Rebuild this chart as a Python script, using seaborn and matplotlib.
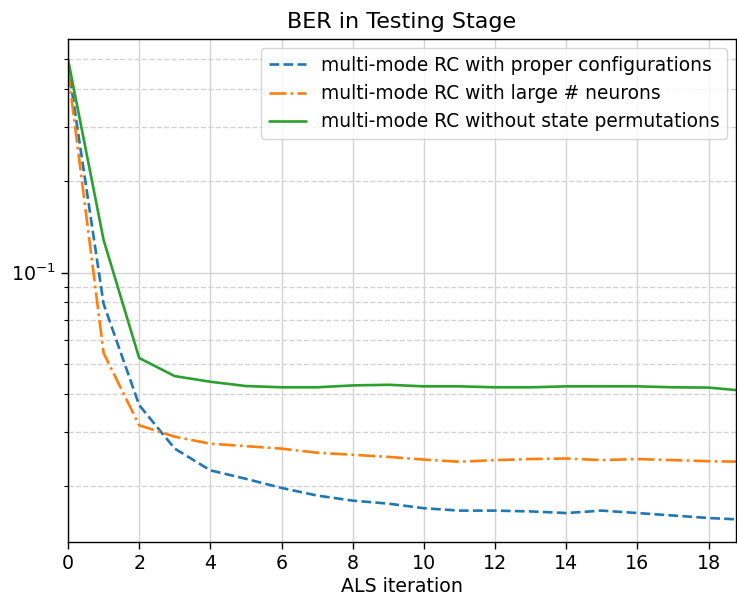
import numpy as np
import pandas as pd
import matplotlib
matplotlib.use("Agg")
import matplotlib.pyplot as plt
import matplotlib.ticker as mticker
import seaborn as sns

iterations = list(range(20))
ber_proper = [0.48, 0.079, 0.0368, 0.0265, 0.0225, 0.0211, 0.0197, 0.0186, 0.0179, 0.0175,
              0.0169, 0.0166, 0.0166, 0.0165, 0.0163, 0.0166, 0.0163, 0.0160, 0.0157, 0.0155]
ber_large = [0.46, 0.0545, 0.0316, 0.0290, 0.0275, 0.0270, 0.0265, 0.0257, 0.0253, 0.0249,
             0.0244, 0.0240, 0.0243, 0.0245, 0.0246, 0.0243, 0.0245, 0.0243, 0.0241, 0.0240]
ber_noperm = [0.50, 0.128, 0.0525, 0.0458, 0.0439, 0.0425, 0.0421, 0.0421, 0.0427, 0.0429,
              0.0424, 0.0424, 0.0421, 0.0421, 0.0424, 0.0424, 0.0424, 0.0421, 0.0420, 0.0410]
labels = ["multi-mode RC with proper configurations",
          "multi-mode RC with large # neurons",
          "multi-mode RC without state permutations"]
colors = ["#1f77b4", "#ff7f0e", "#2ca02c"]
styles = ["--", "-.", "-"]
series = [ber_proper, ber_large, ber_noperm]

sns.set_style("white", {"text.color": "black", "axes.labelcolor": "black",
                        "xtick.color": "black", "ytick.color": "black"})
plt.rcParams['font.family'] = ['DejaVu Sans']

FS = 13.7

fig = plt.figure(figsize=(7.37, 5.97), dpi=100)
ax = fig.add_axes([68/737, 1 - 542/597, (736 - 68)/737, (542 - 39)/597])

for lab, col, ls, vals in zip(labels, colors, styles, series):
    df = pd.DataFrame({"ALS iteration": iterations, "BER": vals})
    sns.lineplot(data=df, x="ALS iteration", y="BER", ax=ax, color=col,
                 linestyle=ls, linewidth=1.9, label=lab)

ax.set_yscale("log")
ax.set_xlim(0, 18.77)
ax.set_ylim(0.0131, 0.583)
ax.set_xticks(range(0, 19, 2))
ax.yaxis.set_minor_formatter(mticker.NullFormatter())

ax.grid(True, which="major", axis="both", color="#d3d3d3", linestyle="-", linewidth=1.0)
ax.grid(True, which="minor", axis="y", color="#d3d3d3", linestyle="--", linewidth=1.0)
ax.set_axisbelow(True)

for s in ax.spines.values():
    s.set_visible(True)
    s.set_color("black")
    s.set_linewidth(1.0)

ax.tick_params(axis="both", which="major", direction="out", length=5, width=1,
               labelsize=FS, colors="black", bottom=True, left=True)
ax.tick_params(axis="y", which="minor", direction="out", length=3, width=0.8,
               left=True)

ax.set_xlabel("ALS iteration", fontsize=FS, color="black", labelpad=3)
ax.set_ylabel("")
ax.set_title("BER in Testing Stage", fontsize=16, pad=8, color="black")

leg = ax.legend(loc="upper right", fontsize=13.4, frameon=True, fancybox=True,
                framealpha=0.8, edgecolor="#cccccc", handlelength=2.0)
for t in leg.get_texts():
    t.set_color("black")

fig.savefig("out.png", dpi=100)
